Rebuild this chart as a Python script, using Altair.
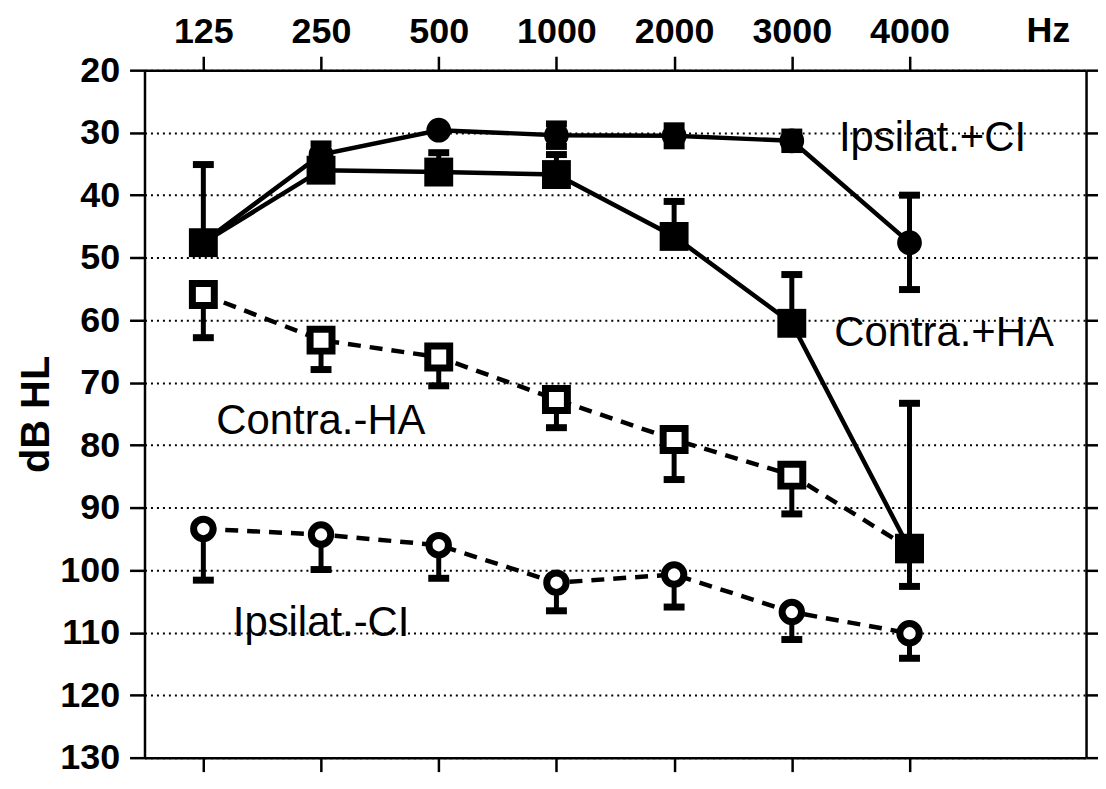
import json
import altair as alt
import pandas as pd

# ---------------- data ----------------
freq_labels = ["125", "250", "500", "1000", "2000", "3000", "4000"]
x_idx = [0, 1, 2, 3, 4, 5, 6]

series_names = ["Ipsilat.+CI", "Contra.+HA", "Contra.-HA", "Ipsilat.-CI"]

ipsi_plus = [47.5, 33.5, 29.6, 30.4, 30.5, 31.3, 47.6]
ipsi_plus_top = [47.5, 31.8, 29.6, 28.6, 28.9, 29.9, 40.0]
ipsi_plus_bot = [47.5, 35.2, 29.6, 32.2, 32.1, 32.7, 55.1]

contra_plus = [47.6, 36.0, 36.3, 36.7, 46.6, 60.5, 96.6]
contra_plus_top = [35.1, 36.0, 33.2, 33.5, 41.0, 52.7, 73.3]
contra_plus_bot = [47.6, 36.0, 36.3, 36.7, 46.6, 60.5, 102.6]

contra_minus = [55.9, 63.2, 65.9, 72.7, 79.1, 84.8, 96.5]
contra_minus_top = [55.9, 63.2, 65.9, 72.7, 79.1, 84.8, 96.5]
contra_minus_bot = [62.8, 67.9, 70.5, 77.2, 85.5, 91.0, 96.5]

ipsi_minus = [93.4, 94.3, 96.0, 102.0, 100.7, 106.7, 110.1]
ipsi_minus_top = [93.4, 94.3, 96.0, 102.0, 100.7, 106.7, 110.1]
ipsi_minus_bot = [101.6, 99.9, 101.3, 106.5, 105.9, 111.1, 114.1]

label_text = ["Ipsilat.+CI", "Contra.+HA", "Contra.-HA", "Ipsilat.-CI"]
label_x = [5.40, 5.36, 0.11, 0.25]
label_y = [33.0, 64.1, 78.2, 110.6]

unit_text = ["Hz"]
unit_x = [7.18]

y_ticks = [20, 30, 40, 50, 60, 70, 80, 90, 100, 110, 120, 130]

# ---------------- tables ----------------
vals = [ipsi_plus, contra_plus, contra_minus, ipsi_minus]
tops = [ipsi_plus_top, contra_plus_top, contra_minus_top, ipsi_minus_top]
bots = [ipsi_plus_bot, contra_plus_bot, contra_minus_bot, ipsi_minus_bot]

rows, bars, caps = [], [], []
for name, v, t, b in zip(series_names, vals, tops, bots):
    for i, x in enumerate(x_idx):
        rows.append({"series": name, "x": x, "y": v[i]})
        if t[i] != b[i]:
            bars.append({"series": name, "x": x, "lo": t[i], "hi": b[i]})
        if t[i] != v[i]:
            caps.append({"series": name, "x": x, "y": t[i]})
        if b[i] != v[i]:
            caps.append({"series": name, "x": x, "y": b[i]})

df = pd.DataFrame(rows)
df_bars = pd.DataFrame(bars)
df_caps = pd.DataFrame(caps)
df_labels = pd.DataFrame({"label": label_text, "x": label_x, "y": label_y})
df_unit = pd.DataFrame({"label": unit_text, "x": unit_x})

FONT = "Liberation Sans"
xscale = alt.Scale(domain=[-0.5, 7.5], nice=False, zero=False)
yscale = alt.Scale(domain=[20, 130], nice=False, zero=False, reverse=True)

label_expr = json.dumps(freq_labels) + "[datum.value]"

x_top = alt.Axis(orient="top", values=x_idx, labelExpr=label_expr, title=None,
                 labelFont=FONT, labelFontSize=36, labelFontWeight="bold",
                 labelColor="black", labelBaseline="alphabetic", labelPadding=14,
                 tickSize=14, tickWidth=2.5, tickColor="black",
                 domainColor="black", domainWidth=2.5, grid=False, labelFlush=False)
x_bottom = alt.Axis(orient="bottom", values=x_idx, labels=False, title=None,
                    tickSize=14, tickWidth=2.5, tickColor="black",
                    domainColor="black", domainWidth=2.5, grid=False)
y_left = alt.Axis(orient="left", values=y_ticks, title="dB HL",
                  titleFont=FONT, titleFontSize=40, titleFontWeight="bold",
                  titleColor="black", titlePadding=3,
                  labelFont=FONT, labelFontSize=36, labelFontWeight="bold",
                  labelColor="black", labelPadding=10, labelFlush=False,
                  tickSize=15, tickWidth=2.5, tickColor="black",
                  domainColor="black", domainWidth=2.5,
                  grid=True, gridColor="black", gridDash=[2, 4], gridWidth=2)
y_right = alt.Axis(orient="right", values=y_ticks, labels=False, title=None,
                   tickSize=14, tickWidth=2.5, tickColor="black",
                   domainColor="black", domainWidth=2.5, grid=False)

solid = ["Ipsilat.+CI", "Contra.+HA"]
dashed = ["Contra.-HA", "Ipsilat.-CI"]

lines_solid = alt.Chart(df).transform_filter(
    alt.FieldOneOfPredicate(field="series", oneOf=solid)
).mark_line(color="black", strokeWidth=4.5).encode(
    x=alt.X("x:Q", scale=xscale, axis=x_top),
    y=alt.Y("y:Q", scale=yscale, axis=y_left),
    detail="series:N",
)

lines_dashed = alt.Chart(df).transform_filter(
    alt.FieldOneOfPredicate(field="series", oneOf=dashed)
).mark_line(color="black", strokeWidth=4.5, strokeDash=[13, 9]).encode(
    x=alt.X("x:Q", scale=xscale, axis=x_bottom),
    y=alt.Y("y:Q", scale=yscale, axis=y_right),
    detail="series:N",
)

err_rules = alt.Chart(df_bars).mark_rule(color="black", strokeWidth=5).encode(
    x=alt.X("x:Q", scale=xscale, axis=None),
    y=alt.Y("lo:Q", scale=yscale, axis=None),
    y2="hi:Q",
)

err_caps = alt.Chart(df_caps).mark_tick(
    color="black", orient="horizontal", size=21, thickness=7, opacity=1
).encode(
    x=alt.X("x:Q", scale=xscale, axis=None),
    y=alt.Y("y:Q", scale=yscale, axis=None),
)


def pts(names, shape, size, fill, stroke_width):
    return alt.Chart(df).transform_filter(
        alt.FieldOneOfPredicate(field="series", oneOf=names)
    ).mark_point(
        shape=shape, size=size, filled=True, fill=fill, stroke="black",
        strokeWidth=stroke_width, opacity=1, fillOpacity=1, strokeOpacity=1
    ).encode(
        x=alt.X("x:Q", scale=xscale, axis=None),
        y=alt.Y("y:Q", scale=yscale, axis=None),
    )


open_sq = pts(["Contra.-HA"], "square", 484, "white", 7)
open_ci = pts(["Ipsilat.-CI"], "circle", 380, "white", 7)
fill_ci = pts(["Ipsilat.+CI"], "circle", 616, "black", 0)
fill_sq = pts(["Contra.+HA"], "square", 841, "black", 0)

labels = alt.Chart(df_labels).mark_text(
    align="left", baseline="alphabetic", font=FONT, fontSize=42, color="black"
).encode(
    x=alt.X("x:Q", scale=xscale, axis=None),
    y=alt.Y("y:Q", scale=yscale, axis=None),
    text="label:N",
)

unit = alt.Chart(df_unit).mark_text(
    align="center", baseline="alphabetic", font=FONT, fontSize=36,
    fontWeight="bold", color="black"
).encode(
    x=alt.X("x:Q", scale=xscale, axis=None),
    y=alt.value(-28),
    text="label:N",
)

chart = alt.layer(
    lines_solid, lines_dashed, err_rules, err_caps,
    open_sq, open_ci, fill_ci, fill_sq, labels, unit
).resolve_axis(x="independent", y="independent").properties(
    width=945, height=690,
    autosize=alt.AutoSizeParams(type="none"),
    padding={"left": 137, "top": 61, "right": 12, "bottom": 19},
    background="white",
).configure_view(stroke=None)

chart.save("out.html", embed_options={"renderer": "svg", "actions": False})
